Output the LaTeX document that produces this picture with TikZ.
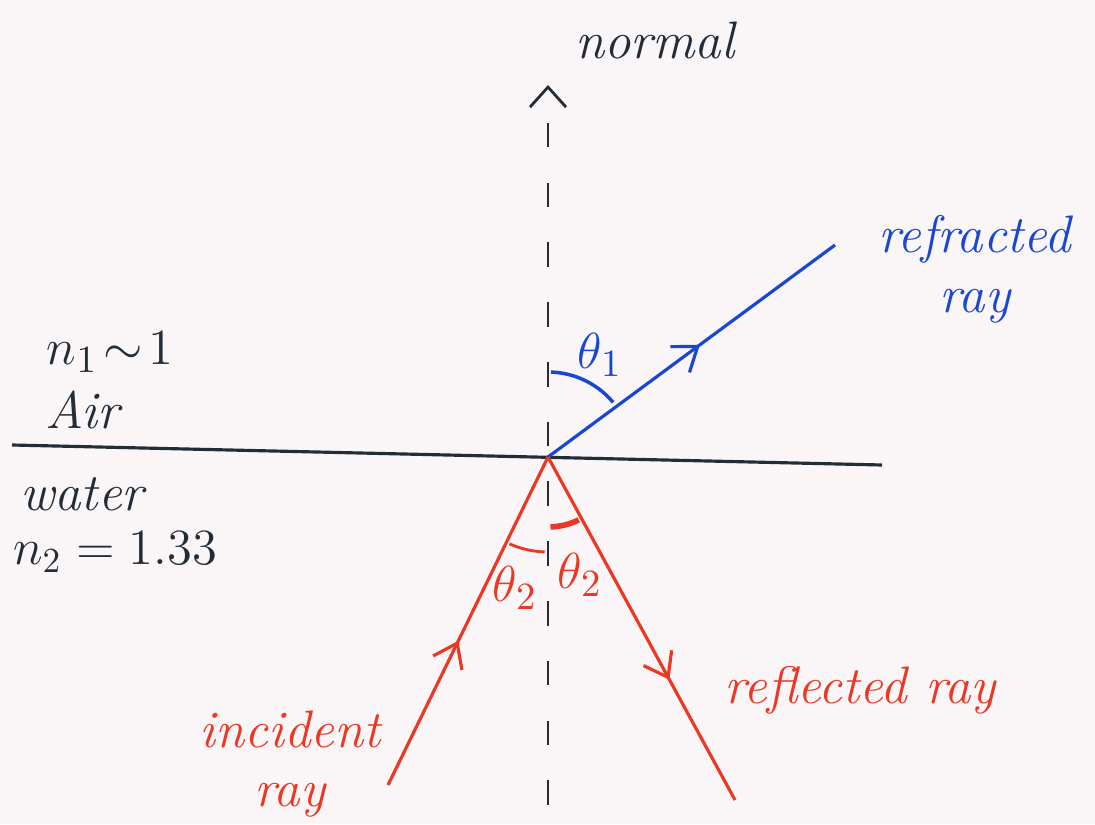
\documentclass[tikz,border=0pt]{standalone}
\usepackage{amsmath,amssymb}
\usepackage{tikz}
\usetikzlibrary{positioning,arrows.meta,decorations.markings,calc}
\usepackage{xcolor}
\definecolor{inkdark}{RGB}{35,45,55}
\definecolor{inkred}{RGB}{235,55,35}
\definecolor{inkblue}{RGB}{25,70,210}
\definecolor{paper}{RGB}{250,246,248}

\tikzset{
  hand/.style={font=\fontsize{15}{17}\selectfont\itshape,align=center,inner sep=1pt},
  ray/.style={line width=0.9pt},
  midarrow/.style={postaction={decorate},decoration={markings,
    mark=at position #1 with {\arrow{Straight Barb[length=2.2mm,width=3.2mm]}}}}
}

\begin{document}
\begin{tikzpicture}[x=0.01cm,y=0.01cm]
\fill[paper] (0,0) rectangle (1095,824);
\useasboundingbox (0,0) rectangle (1095,824);

% points of the drawing
\coordinate (O) at (548,367);
\coordinate (surfL) at (12,379);
\coordinate (surfR) at (882,359);
\coordinate (ntop) at (548,739);
\coordinate (nbot) at (548,19);
\coordinate (refrEnd) at (835,579);
\coordinate (incStart) at (388,39);
\coordinate (reflEnd) at (735,24);

% surface and normal
\draw[inkdark,ray] (surfL) -- (surfR);
\draw[inkdark,line width=0.8pt,dash pattern=on 7pt off 10pt,
  -{Straight Barb[length=2mm,width=3.6mm]}] (nbot) -- (ntop);

% rays
\draw[inkblue,ray,midarrow=0.53] (O) -- (refrEnd);
\draw[inkred,ray,midarrow=0.44] (incStart) -- (O);
\draw[inkred,ray,midarrow=0.65] (O) -- (reflEnd);

% angles
\draw[inkblue,line width=1pt] ($(O)+(88:85)$) arc[start angle=88,end angle=40,radius=85];
\draw[inkred,line width=0.8pt] ($(O)+(246:95)$) arc[start angle=246,end angle=268,radius=95];
\draw[inkred,line width=1.6pt] ($(O)+(272:70)$) arc[start angle=272,end angle=296,radius=70];

% labels
\node[hand,inkdark] (normal) at (655,784) {normal};
\node[hand,inkblue] (refrLabel) at (975,555) {refracted\\ray};
\node[hand,inkdark] (nair) at (110,472) {$n_1\!\sim\!1$};
\node[hand,inkdark] (air) at (82,414) {Air};
\node[hand,inkdark] (water) at (82,330) {water};
\node[hand,inkdark,font=\fontsize{14}{16}\selectfont] (nwater) at (115,272) {$n_2=1.33$};
\node[hand,inkred] (incLabel) at (290,60) {incident\\ray};
\node[hand,inkred] (reflLabel) at (860,134) {reflected ray};
\node[hand,inkblue] (thetaA) at (600,469) {$\theta_1$};
\node[hand,inkred] (thetaB) at (515,236) {$\theta_2$};
\node[hand,inkred] (thetaC) at (580,249) {$\theta_2$};
\end{tikzpicture}
\end{document}
